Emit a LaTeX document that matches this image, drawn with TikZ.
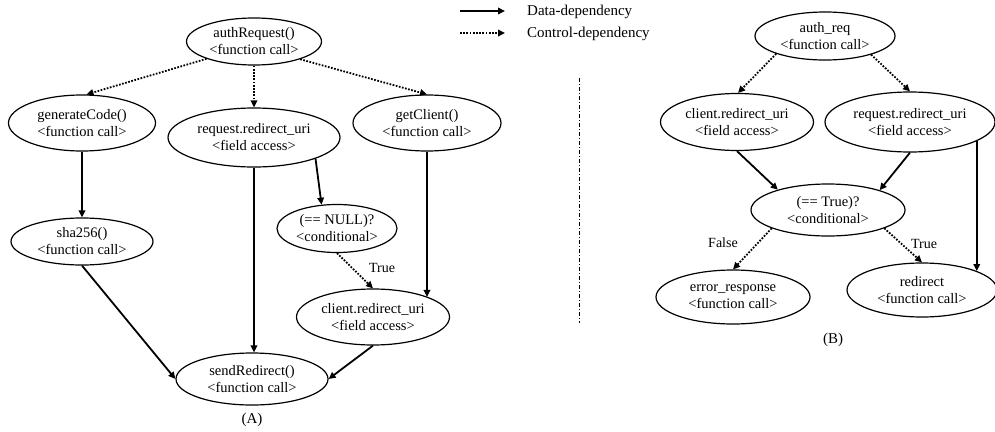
\documentclass[tikz,border=0pt]{standalone}
\usepackage{fontspec}
\setmainfont{Liberation Serif}
\usetikzlibrary{shapes.geometric,arrows.meta}
\begin{document}
\begin{tikzpicture}[x=1pt,y=-1pt,
  nd/.style={draw, ellipse, line width=1.2pt, inner sep=0pt, align=center,
             font=\fontsize{14.5}{17}\selectfont},
  data/.style={line width=1.8pt, -{Triangle[length=7pt,width=6.5pt]}},
  ctrl/.style={line width=1.8pt, dash pattern=on 1.7pt off 1.5pt, -{Triangle[length=7pt,width=6.5pt]}},
  lbl/.style={font=\fontsize{14}{16}\selectfont, inner sep=0pt},
  captxt/.style={font=\fontsize{15}{17}\selectfont, inner sep=0pt},
  divider/.style={line width=0.7pt, dash pattern=on 4pt off 2pt on 1pt off 2pt}]
\path[use as bounding box, clip] (0,0) rectangle (995,431);

% ---------- Legend ----------
\coordinate (l1a) at (460,11);
\coordinate (l1b) at (505,11);
\coordinate (l2a) at (460,33);
\coordinate (l2b) at (505,33);
\draw[data] (l1a) -- (l1b);
\draw[ctrl] (l2a) -- (l2b);
\node[captxt, anchor=west] (t1) at (527,12) {Data-dependency};
\node[captxt, anchor=west] (t2) at (527,34) {Control-dependency};

% ---------- (A) ----------
\node[nd, minimum width=135, minimum height=47] (ar)  at (254,41.5)  {authRequest()\\<function call>};
\node[nd, minimum width=147, minimum height=56] (gen) at (82,123)    {generateCode()\\<function call>};
\node[nd, minimum width=172, minimum height=59] (rr)  at (254,137.5) {request.redirect\_uri\\<field access>};
\node[nd, minimum width=148, minimum height=56] (gc)  at (427,123)   {getClient()\\<function call>};
\node[nd, minimum width=142, minimum height=47] (sha) at (82,241.5)  {sha256()\\<function call>};
\node[nd, minimum width=120, minimum height=48] (nul) at (337,228.5) {(== NULL)?\\<conditional>};
\node[nd, minimum width=153, minimum height=56] (cru) at (373,317)   {client.redirect\_uri\\<field access>};
\node[nd, minimum width=152, minimum height=52] (sr)  at (252,379)   {sendRedirect()\\<function call>};

\draw[ctrl] (ar.-160) -- (gen.81);
\draw[ctrl] (ar.south) -- (ar.south |- rr.north);
\draw[ctrl] (ar.-21) -- (gc.north);
\draw[data] (gen.south) -- (gen.south |- sha.north);
\draw[data] (rr.south) -- (rr.south |- sr.north);
\draw[data] (rr.-19) -- (nul.123);
\draw[data] (gc.south) -- (gc.south |- cru.20);
\draw[ctrl] (nul.south) -- (cru.north);
\node[lbl] (tA) at (382,268) {True};
\draw[data] (sha.south) -- (sr.west);
\draw[data] (cru.south) -- (sr.east);

\node[captxt] (capA) at (252,420) {(A)};

% ---------- divider ----------
\coordinate (d1) at (579,78);
\coordinate (d2) at (579,323);
\draw[divider] (d1) -- (d2);

% ---------- (B) ----------
\node[nd, minimum width=140, minimum height=48] (aq)  at (825,36)  {auth\_req\\<function call>};
\node[nd, minimum width=153, minimum height=57] (crB) at (737,122) {client.redirect\_uri\\<field access>};
\node[nd, minimum width=170, minimum height=60] (rrB) at (910,122) {request.redirect\_uri\\<field access>};
\node[nd, minimum width=154, minimum height=52] (cnd) at (828,210) {(== True)?\\<conditional>};
\node[nd, minimum width=154, minimum height=54] (err) at (733,297) {error\_response\\<function call>};
\node[nd, minimum width=150, minimum height=54] (red) at (922,290) {redirect\\<function call>};

\draw[ctrl] (aq.-160) -- (crB.88);
\draw[ctrl] (aq.-22) -- (rrB.north);
\draw[data] (crB.south) -- (cnd.158.6);
\draw[data] (rrB.south) -- (cnd.21.8);
\draw[data] (rrB.-16.5) -- (rrB.-16.5 |- red.19.8);
\draw[ctrl] (cnd.-162) -- (err.north);
\draw[ctrl] (cnd.-18) -- (red.north);

\node[lbl] (fB) at (723,243) {False};
\node[lbl] (tB) at (924,244) {True};
\node[captxt] (capB) at (833,340) {(B)};
\end{tikzpicture}
\end{document}
